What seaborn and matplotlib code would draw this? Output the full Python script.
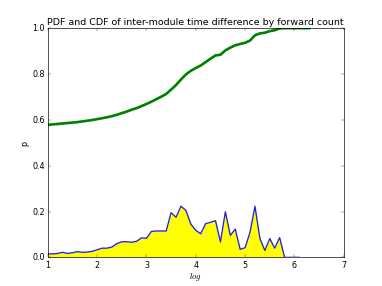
import numpy as np
import pandas as pd
import matplotlib
matplotlib.use("Agg")
import matplotlib.pyplot as plt
import seaborn as sns

# log-scaled forward count bins
pdf_x = [1.0, 1.1, 1.2, 1.3, 1.4, 1.5, 1.6, 1.7, 1.8, 1.9,
         2.0, 2.1, 2.2, 2.3, 2.4, 2.5, 2.6, 2.7, 2.8, 2.9,
         3.0, 3.1, 3.2, 3.3, 3.4, 3.5, 3.6, 3.7, 3.8, 3.9,
         4.0, 4.1, 4.2, 4.3, 4.4, 4.5, 4.6, 4.7, 4.8, 4.9,
         5.0, 5.1, 5.2, 5.3, 5.4, 5.5, 5.6, 5.7, 5.8, 5.9,
         6.0, 6.1]
pdf_y = [0.015, 0.015, 0.017, 0.022, 0.017, 0.020, 0.025, 0.022, 0.023, 0.026,
         0.033, 0.040, 0.040, 0.045, 0.060, 0.068, 0.068, 0.066, 0.070, 0.085,
         0.083, 0.113, 0.115, 0.115, 0.115, 0.195, 0.175, 0.223, 0.205, 0.145,
         0.118, 0.103, 0.147, 0.153, 0.160, 0.067, 0.199, 0.096, 0.123, 0.035,
         0.042, 0.110, 0.223, 0.082, 0.030, 0.082, 0.040, 0.086, 0.0, 0.0,
         0.0, 0.0]

cdf_x = pdf_x + [6.2, 6.3]
cdf_y = [0.578, 0.580, 0.582, 0.584, 0.586, 0.588, 0.590, 0.593, 0.596, 0.599,
         0.603, 0.607, 0.611, 0.616, 0.622, 0.629, 0.636, 0.644, 0.651, 0.660,
         0.669, 0.679, 0.690, 0.701, 0.713, 0.732, 0.752, 0.776, 0.798, 0.814,
         0.826, 0.837, 0.852, 0.867, 0.881, 0.884, 0.903, 0.915, 0.925, 0.931,
         0.936, 0.946, 0.969, 0.977, 0.980, 0.987, 0.991, 0.999, 1.0, 1.0,
         1.0, 1.0, 1.0, 1.0]

pdf = pd.DataFrame({"log": pdf_x, "p": pdf_y})
cdf = pd.DataFrame({"log": cdf_x, "p": cdf_y})

plt.style.use("classic")
plt.rcParams["figure.facecolor"] = "white"
plt.rcParams["savefig.facecolor"] = "white"

fig, ax = plt.subplots(figsize=(8, 6), dpi=47.75)

ax.fill_between(pdf["log"], pdf["p"], color="yellow", linewidth=0)
sns.lineplot(data=pdf, x="log", y="p", color="#2222dd", linewidth=2, ax=ax)
sns.lineplot(data=cdf, x="log", y="p", color="green", linewidth=4, ax=ax)

ax.set_xlim(1, 7)
ax.set_ylim(0, 1.0)
ax.set_title("PDF and CDF of inter-module time difference by forward count", fontsize=14.4)
ax.set_xlabel("$log$", fontsize=13, labelpad=2)
ax.set_ylabel("p", fontsize=12)

fig.savefig("out.png", dpi=47.75)
